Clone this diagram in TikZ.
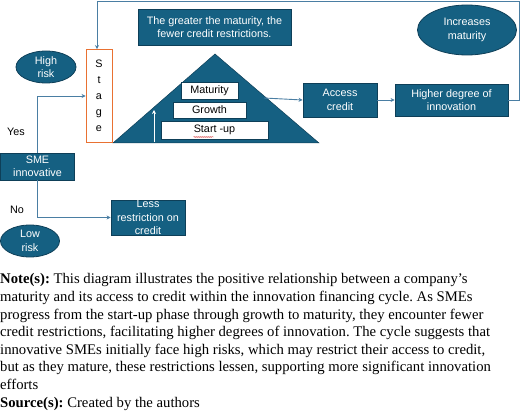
\documentclass[tikz,border=0pt]{standalone}
\usepackage{fontspec}
\setmainfont{Liberation Serif}
\newfontfamily\dsans{Liberation Sans}
\usetikzlibrary{arrows.meta,decorations.pathmorphing,shapes.geometric}
\definecolor{teal1}{HTML}{156082}
\definecolor{tealdk}{HTML}{0E3F58}
\definecolor{conncol}{HTML}{4A7EA3}
\definecolor{orng}{HTML}{E97132}
\tikzset{
  box/.style={draw=tealdk, line width=0.8pt, fill=teal1, text=white, align=center,
    font=\dsans\fontsize{10.8}{13.4}\selectfont, inner sep=0pt},
  oval/.style={ellipse, draw=tealdk, line width=0.8pt, fill=teal1, text=white, align=center,
    font=\dsans\fontsize{10.8}{13.4}\selectfont, inner sep=0pt},
  wbox/.style={draw=tealdk, line width=0.5pt, fill=white, text=black, align=center,
    font=\dsans\fontsize{10.8}{12}\selectfont, inner sep=0pt},
  conn/.style={draw=conncol, line width=0.9pt},
  arr/.style={conn, -{Stealth[length=4pt,width=4pt]}},
  lbl/.style={font=\dsans\fontsize{10.8}{12}\selectfont, text=black},
  para/.style={anchor=base west, inner sep=0pt, font=\fontsize{14.7}{17.6}\selectfont}
}
\begin{document}
\frenchspacing
\begin{tikzpicture}[x=1pt,y=-1pt]
\useasboundingbox (0,0) rectangle (520,414);
% triangle
\path[fill=teal1, draw=tealdk, line width=0.5pt] (215,54) -- (319,143) -- (113,143) -- cycle;
\coordinate (trR) at (264,98);
% nodes
\node[box, minimum width=153pt, minimum height=36pt] (title) at (214.5,27)
  {The greater the maturity, the\\fewer credit restrictions.};
\node[draw=orng, line width=0.9pt, fill=white, minimum width=26pt, minimum height=93pt,
  align=center, inner sep=0pt, font=\dsans\fontsize{10.8}{16}\selectfont] (stage) at (99,96)
  {S\\t\\a\\g\\e};
\node[oval, minimum width=60pt, minimum height=32pt] (high) at (46,67) {High\\risk};
\node[oval, minimum width=99pt, minimum height=50pt] (incr) at (467,30) {Increases\\maturity};
\node[oval, minimum width=59pt, minimum height=32pt] (low) at (30,241) {Low\\risk};
\node[wbox, minimum width=57pt, minimum height=17pt] (mat) at (209.5,90.5) {Maturity};
\node[wbox, minimum width=73pt, minimum height=16pt] (gro) at (209.5,110) {Growth};
\node[wbox, minimum width=107pt, minimum height=18pt] (sta) at (214.5,130) {Start -up};
\draw[red!80!black, line width=0.3pt, decorate, decoration={snake, amplitude=0.5pt, segment length=2pt}]
  ([xshift=-21pt,yshift=-7pt]sta.center) -- ([xshift=-1pt,yshift=-7pt]sta.center);
\node[box, minimum width=74pt, minimum height=34pt] (access) at (340,100) {Access\\credit};
\node[box, minimum width=113pt, minimum height=32pt] (higher) at (451.5,100) {Higher degree of\\innovation};
\node[box, minimum width=74pt, minimum height=27pt] (sme) at (37.5,166.5) {SME\\innovative};
\node[box, minimum width=74pt, minimum height=35pt] (less) at (148,217.5) {Less\\restriction on\\credit};
\node[lbl] (yes) at (16,132) {Yes};
\node[lbl] (no) at (17,210) {No};
% inner arrow
\coordinate (ua) at (154,142);
\coordinate (ub) at (154,110);
\draw[white, line width=0.9pt, -{Stealth[length=4pt,width=4pt]}] (ua) -- (ub);
% connectors
\coordinate (tr) at (519,1.5);
\coordinate (tl) at (97,1.5);
\draw[arr] (higher.east) -- (higher.east -| tr) -- (tr) -- (tl) -- (tl |- stage.north);
\draw[arr] (sme.north) |- (stage.west);
\draw[arr] (sme.south) |- (less.west);
\draw[arr] (trR) -- (access.west);
\draw[arr] (access.east) -- (higher.west);
% note
\node[para] (n1) at (0,284) {\textbf{Note(s):} This diagram illustrates the positive relationship between a company’s};
\node[para] (n2) at (0,301.6) {maturity and its access to credit within the innovation financing cycle. As SMEs};
\node[para] (n3) at (0,319.2) {progress from the start-up phase through growth to maturity, they encounter fewer};
\node[para] (n4) at (0,336.8) {credit restrictions, facilitating higher degrees of innovation. The cycle suggests that};
\node[para] (n5) at (0,354.4) {innovative SMEs initially face high risks, which may restrict their access to credit,};
\node[para] (n6) at (0,372) {but as they mature, these restrictions lessen, supporting more significant innovation};
\node[para] (n7) at (0,389.6) {efforts};
\node[para] (n8) at (0,407.2) {\textbf{Source(s):} Created by the authors};
\end{tikzpicture}
\end{document}
